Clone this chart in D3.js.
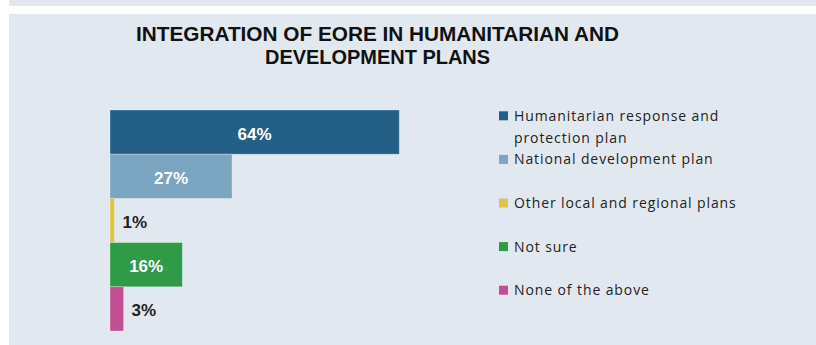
<!DOCTYPE html>
<html>
<head>
<meta charset="utf-8">
<script src="https://cdn.jsdelivr.net/npm/d3@7"></script>
<style>
  body { margin: 0; background: #fff; }
  svg { display: block; }
</style>
</head>
<body>
<div id="chart"></div>
<script>
const categories = [
  'Humanitarian response and protection plan',
  'National development plan',
  'Other local and regional plans',
  'Not sure',
  'None of the above'
]
const values = [64, 27, 1, 16, 3]
const legendLines = [
  ['Humanitarian response and', 'protection plan'],
  ['National development plan'],
  ['Other local and regional plans'],
  ['Not sure'],
  ['None of the above']
]
const colors = ['#245f86', '#7ba5c1', '#dcc54c', '#2f9b49', '#c24f92']
const titleLines = ['INTEGRATION OF EORE IN HUMANITARIAN AND', 'DEVELOPMENT PLANS']
const titleWidths = [483, 225]

const width = 816
const height = 345
const bg = '#e2e8ef'

const svg = d3.select('#chart')
  .append('svg')
  .attr('width', width)
  .attr('height', height)

// panels
svg.append('rect').attr('x', 9).attr('y', 0).attr('width', width - 9).attr('height', 6).attr('fill', bg)
svg.append('rect').attr('x', 9).attr('y', 14).attr('width', width - 9).attr('height', height - 14).attr('fill', bg)

// title (condensed look squeezed to the original width)
svg.append('g')
  .selectAll('text')
  .data(titleLines)
  .enter()
  .append('text')
  .attr('x', 377.5)
  .attr('y', (d, i) => 41 + i * 23)
  .attr('text-anchor', 'middle')
  .attr('font-family', '"Liberation Sans", Arial, sans-serif')
  .attr('font-weight', 'bold')
  .attr('font-size', 21)
  .attr('textLength', (d, i) => titleWidths[i])
  .attr('lengthAdjust', 'spacingAndGlyphs')
  .attr('fill', '#111')
  .text(d => d)

const xScale = d3.scaleLinear().domain([0, 100]).range([110, 110 + 452])
const yScale = d3.scaleBand().domain(categories).range([110, 331]).padding(0)

svg.append('g')
  .selectAll('rect')
  .data(values)
  .enter()
  .append('rect')
  .attr('x', xScale(0))
  .attr('y', (d, i) => yScale(categories[i]))
  .attr('width', d => xScale(d) - xScale(0))
  .attr('height', yScale.bandwidth())
  .attr('fill', (d, i) => colors[i])
  .attr('stroke', 'rgba(255,255,255,0.35)')
  .attr('stroke-width', 0.8)

// value labels: inside if it fits, outside otherwise
svg.append('g')
  .selectAll('text')
  .data(values)
  .enter()
  .append('text')
  .attr('x', d => d < 10 ? xScale(d) + 8 : (xScale(0) + xScale(d)) / 2)
  .attr('y', (d, i) => yScale(categories[i]) + yScale.bandwidth() / 2 + 7.5)
  .attr('text-anchor', d => d < 10 ? 'start' : 'middle')
  .attr('font-family', '"Liberation Sans", Arial, sans-serif')
  .attr('font-weight', 'bold')
  .attr('font-size', 17)
  .attr('fill', d => d < 10 ? '#222' : '#fff')
  .text(d => d + '%')

// legend
const legendY = d3.scaleBand().domain(categories).range([94, 312]).padding(0)
const legend = svg.append('g')
  .selectAll('g')
  .data(categories)
  .enter()
  .append('g')
  .attr('transform', d => 'translate(499,' + (legendY(d) + legendY.bandwidth() / 2) + ')')

legend.append('rect')
  .attr('x', 0)
  .attr('y', -4.5)
  .attr('width', 9)
  .attr('height', 9)
  .attr('fill', (d, i) => colors[i])

legend.append('text')
  .attr('x', 15)
  .attr('y', 5)
  .attr('font-family', '"Open Sans", sans-serif')
  .attr('font-size', 14)
  .attr('letter-spacing', 0.9)
  .attr('fill', '#222')
  .selectAll('tspan')
  .data((d, i) => legendLines[i])
  .enter()
  .append('tspan')
  .attr('x', 15)
  .attr('dy', (d, i) => i === 0 ? 0 : 22)
  .text(d => d)
</script>
</body>
</html>
